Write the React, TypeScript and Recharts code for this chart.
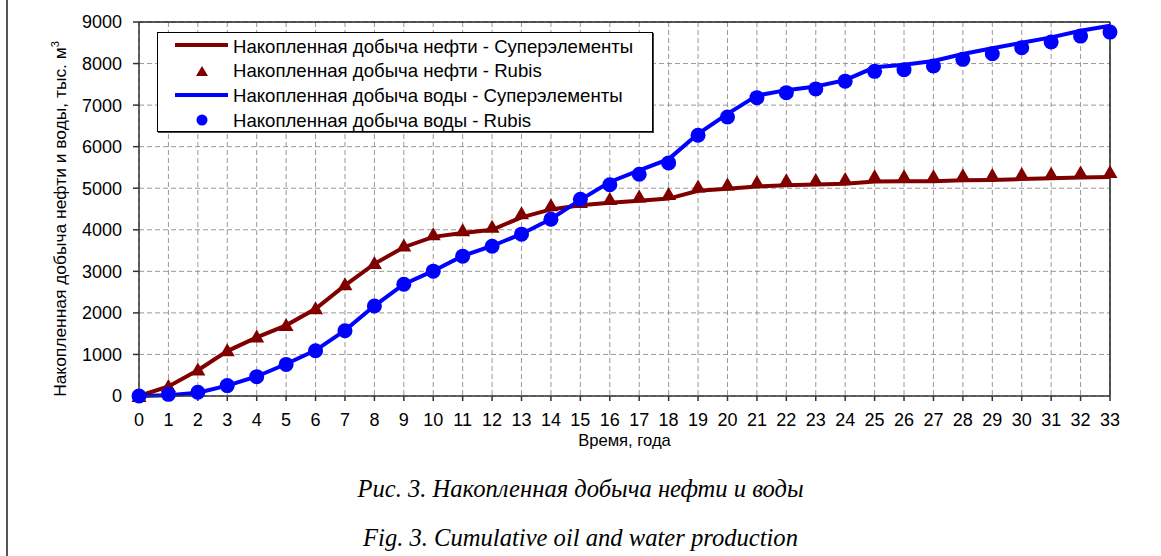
import {
  ComposedChart,
  Line,
  XAxis,
  YAxis,
  CartesianGrid,
  ReferenceLine,
  Legend,
} from 'recharts';

const years = [
  0, 1, 2, 3, 4, 5, 6, 7, 8, 9, 10, 11, 12, 13, 14, 15, 16,
  17, 18, 19, 20, 21, 22, 23, 24, 25, 26, 27, 28, 29, 30, 31, 32, 33,
];

// Накопленная добыча нефти - Суперэлементы
const oilSuper = [
  0, 230, 620, 1080, 1410, 1700, 2100, 2660, 3180, 3580, 3830, 3920, 4000, 4300, 4490, 4590, 4650,
  4700, 4750, 4940, 4990, 5040, 5070, 5090, 5110, 5160, 5170, 5170, 5190, 5200, 5220, 5240, 5260, 5270,
];

// Накопленная добыча нефти - Rubis
const oilRubis = [
  0, 240, 640, 1100, 1430, 1710, 2110, 2690, 3200, 3620, 3890, 3990, 4070, 4400, 4590, 4670, 4740,
  4800, 4860, 5040, 5090, 5150, 5190, 5200, 5220, 5290, 5290, 5290, 5310, 5320, 5340, 5350, 5380, 5390,
];

// Накопленная добыча воды - Суперэлементы
const waterSuper = [
  0, 20, 80, 250, 470, 770, 1100, 1580, 2170, 2690, 3010, 3370, 3610, 3900, 4260, 4720, 5150,
  5430, 5700, 6310, 6790, 7230, 7360, 7450, 7600, 7910, 7970, 8060, 8230, 8370, 8500, 8630, 8790, 8910,
];

// Накопленная добыча воды - Rubis
const waterRubis = [
  0, 40, 90, 250, 465, 760, 1090, 1570, 2165, 2690, 3005, 3365, 3605, 3895, 4255, 4735, 5085,
  5337, 5609, 6274, 6715, 7180, 7300, 7390, 7576, 7812, 7853, 7940, 8101, 8237, 8381, 8517, 8661, 8757,
];

const yTicks = [0, 1000, 2000, 3000, 4000, 5000, 6000, 7000, 8000, 9000];

const legendLabels = [
  'Накопленная добыча нефти - Суперэлементы',
  'Накопленная добыча нефти - Rubis',
  'Накопленная добыча воды - Суперэлементы',
  'Накопленная добыча воды - Rubis',
];

const OIL = '#800000';
const WATER = '#0000ff';
const SANS = '"Liberation Sans", Arial, sans-serif';
const SERIF = '"Liberation Serif", "Times New Roman", serif';

const data = years.map((year, i) => ({
  year,
  oilSuper: oilSuper[i],
  oilRubis: oilRubis[i],
  waterSuper: waterSuper[i],
  waterRubis: waterRubis[i],
}));

const renderTriangle = (props: any) => {
  const { cx, cy, index } = props;
  if (cx == null || cy == null) return <g key={`t-${index}`} />;
  return (
    <path
      key={`t-${index}`}
      d={`M${cx},${cy - 7} L${cx + 7.5},${cy + 6} L${cx - 7.5},${cy + 6} Z`}
      fill={OIL}
    />
  );
};

const renderCircle = (props: any) => {
  const { cx, cy, index } = props;
  if (cx == null || cy == null) return <g key={`c-${index}`} />;
  return <circle key={`c-${index}`} cx={cx} cy={cy} r={7.5} fill={WATER} />;
};

const renderLegend = () => (
  <div
    style={{
      width: 494,
      height: 98,
      border: '1px solid #000',
      boxShadow: '1px 1px 0 #444',
      background: '#fff',
    }}
  >
    <svg width={494} height={98} style={{ display: 'block' }}>
      <line x1={17} x2={70} y1={12} y2={12} stroke={OIL} strokeWidth={4} />
      <path d="M44,33 L50,43 L38,43 Z" fill={OIL} />
      <line x1={17} x2={70} y1={62} y2={62} stroke={WATER} strokeWidth={4} />
      <circle cx={44} cy={87} r={5.5} fill={WATER} />
      {legendLabels.map((label, i) => (
        <text
          key={label}
          x={75}
          y={19.5 + i * 24.8}
          fontFamily={SANS}
          fontSize={18.6}
          fill="#000"
        >
          {label}
        </text>
      ))}
    </svg>
  </div>
);

const App = () => {
  return (
    <div
      style={{
        position: 'absolute',
        left: 0,
        top: 0,
        width: 1161,
        height: 556,
        background: '#fff',
        overflow: 'hidden',
      }}
    >
      <div style={{ position: 'absolute', left: 6, top: 0, width: 2, height: 556, background: '#555' }} />
      <ComposedChart
        width={1161}
        height={556}
        data={data}
        margin={{ top: 22, right: 51, bottom: 130, left: 59 }}
      >
        <CartesianGrid stroke="#999" strokeDasharray="5 3" />
        <XAxis
          type="number"
          dataKey="year"
          domain={[0, 33]}
          ticks={years}
          interval={0}
          height={30}
          tickSize={5}
          tickMargin={12}
          stroke="#333"
          strokeWidth={1.5}
          tick={{ fill: '#000', fontSize: 18, fontFamily: SANS }}
        />
        <YAxis
          type="number"
          domain={[0, 9000]}
          ticks={yTicks}
          interval={0}
          width={80}
          tickSize={6}
          tickMargin={11}
          stroke="#333"
          strokeWidth={1.5}
          tick={{ fill: '#000', fontSize: 18, fontFamily: SANS }}
        />
        <ReferenceLine y={9000} stroke="#222" strokeWidth={1.5} />
        <ReferenceLine x={33} stroke="#222" strokeWidth={1.5} />
        <Legend
          layout="vertical"
          align="center"
          verticalAlign="middle"
          content={renderLegend}
          wrapperStyle={{ left: 157, top: 32, width: 496, height: 100 }}
        />
        <Line
          type="linear"
          dataKey="oilSuper"
          stroke={OIL}
          strokeWidth={4}
          dot={false}
          activeDot={false}
          isAnimationActive={false}
        />
        <Line
          type="linear"
          dataKey="oilRubis"
          stroke="none"
          dot={renderTriangle}
          activeDot={false}
          isAnimationActive={false}
        />
        <Line
          type="linear"
          dataKey="waterSuper"
          stroke={WATER}
          strokeWidth={4}
          dot={false}
          activeDot={false}
          isAnimationActive={false}
        />
        <Line
          type="linear"
          dataKey="waterRubis"
          stroke="none"
          dot={renderCircle}
          activeDot={false}
          isAnimationActive={false}
        />
      </ComposedChart>
      <div
        style={{
          position: 'absolute',
          left: 60,
          top: 219,
          transform: 'translate(-50%, -50%) rotate(-90deg)',
          whiteSpace: 'nowrap',
          fontFamily: SANS,
          fontSize: 17.4,
          lineHeight: '17px',
        }}
      >
        Накопленная добыча нефти и воды, тыс. м
        <span style={{ fontSize: 11, verticalAlign: 'super', lineHeight: 0 }}>3</span>
      </div>
      <div
        style={{
          position: 'absolute',
          left: 139,
          width: 971,
          top: 433,
          textAlign: 'center',
          fontFamily: SANS,
          fontSize: 16.6,
          lineHeight: '16px',
        }}
      >
        Время, года
      </div>
      <div
        style={{
          position: 'absolute',
          left: 0,
          width: 1161,
          top: 476,
          textAlign: 'center',
          fontFamily: SERIF,
          fontStyle: 'italic',
          fontSize: 24.6,
          lineHeight: '25px',
        }}
      >
        Рис. 3. Накопленная добыча нефти и воды
      </div>
      <div
        style={{
          position: 'absolute',
          left: 0,
          width: 1161,
          top: 525,
          textAlign: 'center',
          fontFamily: SERIF,
          fontStyle: 'italic',
          fontSize: 24.6,
          lineHeight: '25px',
        }}
      >
        Fig. 3. Cumulative oil and water production
      </div>
    </div>
  );
};

export default App;
